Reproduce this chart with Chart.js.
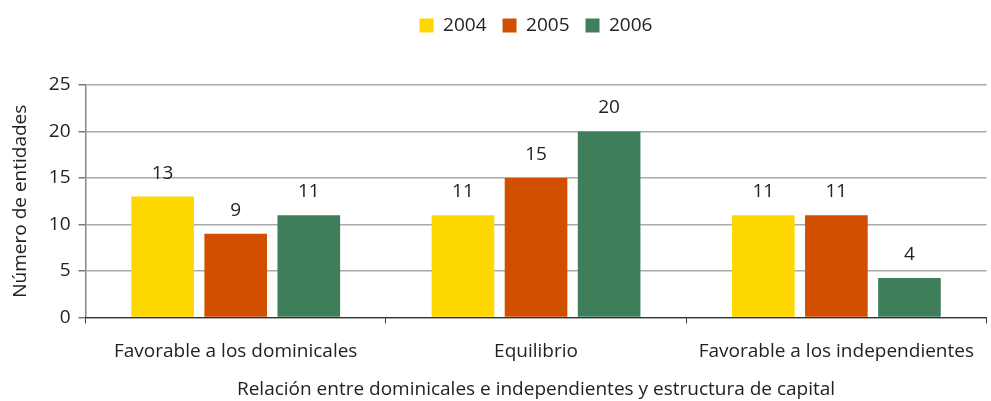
<!DOCTYPE html>
<html><head><meta charset="utf-8">
<script src="https://cdn.jsdelivr.net/npm/chart.js@4.4.1/dist/chart.umd.min.js"></script>
<style>html,body{margin:0;padding:0;background:#fff}#wrap{width:991px;height:401px;position:relative}</style>
</head><body><div id="wrap"><canvas id="c" width="991" height="401"></canvas></div>
<script>
const categories = ["Favorable a los dominicales", "Equilibrio", "Favorable a los independientes"];
const series2004 = [13, 11, 11];
const series2005 = [9, 15, 11];
const series2006 = [11, 20, 4.25];
const seriesNames = ["2004", "2005", "2006"];
const yTicks = [0, 5, 10, 15, 20, 25];
const colors = ["#FFD700", "#D05000", "#3E7E5A"];
const FONT = "'Open Sans', sans-serif";
const FS = 19;

const labelPlugin = {
  id: 'valLabels',
  afterDatasetsDraw(chart) {
    const ctx = chart.ctx;
    ctx.save();
    ctx.font = FS + "px " + FONT;
    ctx.fillStyle = "#222";
    ctx.textAlign = "center";
    ctx.textBaseline = "alphabetic";
    chart.data.datasets.forEach((ds, i) => {
      chart.getDatasetMeta(i).data.forEach((bar, j) => {
        ctx.fillText(String(Math.round(ds.data[j])), bar.x, bar.y - 18);
      });
    });
    ctx.restore();
  }
};

const legendPad = {
  id: 'legendPad',
  beforeInit(chart) {
    const fit = chart.legend.fit;
    chart.legend.fit = function () { fit.call(this); this.height += 40; };
  },
  beforeDraw(chart) {
    chart.legend.left = chart.chartArea.left;
    chart.legend.right = chart.chartArea.right;
  }
};

new Chart(document.getElementById('c'), {
  type: 'bar',
  data: {
    labels: categories,
    datasets: [series2004, series2005, series2006].map((d, i) => ({
      label: seriesNames[i], data: d, backgroundColor: colors[i],
      barPercentage: 0.857, categoryPercentage: 0.73
    }))
  },
  options: {
    responsive: false, animation: false,
    layout: { padding: { left: 9, right: 0, top: 0, bottom: 0 } },
    plugins: {
      legend: {
        position: 'top',
        labels: { font: { family: FONT, size: FS }, color: '#222', boxWidth: 14, boxHeight: 14, padding: 16 }
      },
      tooltip: { enabled: false }
    },
    scales: {
      y: {
        min: 0, max: 25,
        afterBuildTicks(ax) { ax.ticks = yTicks.map(v => ({ value: v })); },
        ticks: { font: { family: FONT, size: FS }, color: '#222', padding: 8 },
        grid: { color: '#AAAAAA', lineWidth: 1.5, tickLength: 7, tickColor: '#777' },
        border: { color: '#888', width: 1.5 },
        title: { display: true, text: 'Número de entidades', font: { family: FONT, size: FS }, color: '#222', padding: { top: 0, bottom: 9 } }
      },
      x: {
        ticks: { font: { family: FONT, size: FS }, color: '#222', padding: 17 },
        grid: { offset: true, drawOnChartArea: false, tickLength: 6, color: '#333' },
        border: { color: '#333', width: 1.2 },
        title: { display: true, text: 'Relación entre dominicales e independientes y estructura de capital', font: { family: FONT, size: FS }, color: '#222', padding: { top: -2, bottom: 0 } }
      }
    }
  },
  plugins: [labelPlugin, legendPad]
});
</script></body></html>
